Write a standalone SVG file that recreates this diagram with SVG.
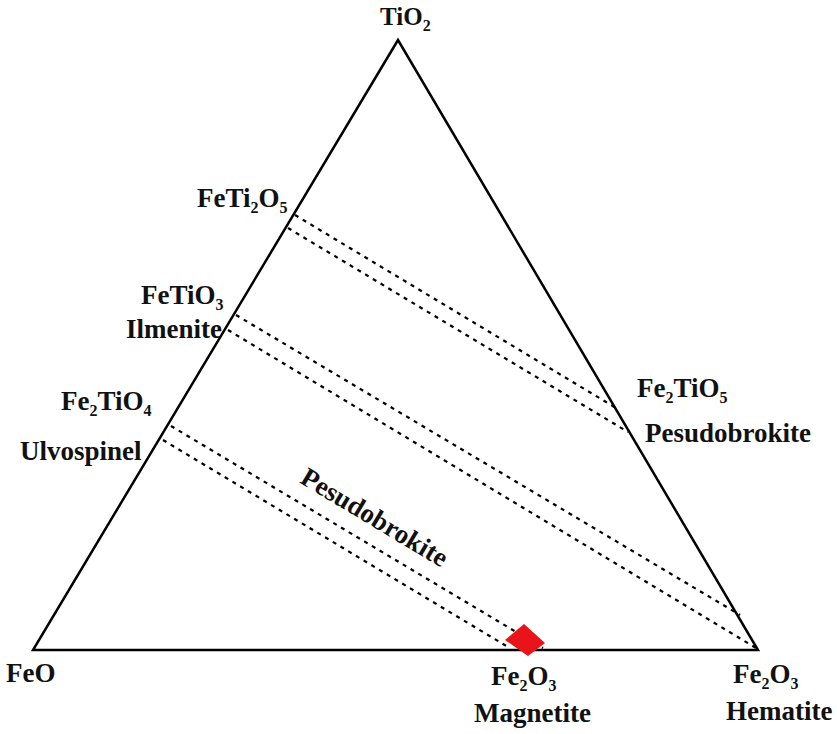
<svg xmlns="http://www.w3.org/2000/svg" width="837" height="734" viewBox="0 0 837 734">
<style>
.t{font-family:"Liberation Serif","Times New Roman",serif;font-weight:bold;font-size:27px;fill:#111}
.s{font-size:16px}
.edge{fill:none;stroke:#000;stroke-width:2.5;stroke-linejoin:miter}
.dash{fill:none;stroke:#000;stroke-width:2.2;stroke-dasharray:4 5}
</style>
<rect width="837" height="734" fill="#fff"/>
<g id="triangle">
<polygon class="edge" points="398,40 33,650 758,650"/>
</g>
<g id="connectors">
<line class="dash" x1="295" y1="215" x2="616" y2="408"/>
<line class="dash" x1="288" y1="228" x2="628" y2="432"/>
<line class="dash" x1="236" y1="315" x2="740" y2="615"/>
<line class="dash" x1="228" y1="330" x2="756" y2="648"/>
<line class="dash" x1="171" y1="426" x2="543" y2="648"/>
<line class="dash" x1="163" y1="440" x2="508" y2="647"/>
</g>
<g id="magnetite-point">
<polygon points="505,640 524,624 545,643 528,656" fill="#e8141a"/>
</g>
<g id="TiO2"><text class="t" x="380" y="25" style="font-size:25px">TiO<tspan class="s" dy="6">2</tspan></text></g>
<g id="FeTi2O5"><text class="t" x="197" y="207">FeTi<tspan class="s" dy="6">2</tspan><tspan dy="-6">O</tspan><tspan class="s" dy="6">5</tspan></text></g>
<g id="FeTiO3"><text class="t" x="141" y="304">FeTiO<tspan class="s" dy="6">3</tspan></text>
<text class="t" x="126" y="338">Ilmenite</text></g>
<g id="Fe2TiO4"><text class="t" x="61" y="410">Fe<tspan class="s" dy="6">2</tspan><tspan dy="-6">TiO</tspan><tspan class="s" dy="6">4</tspan></text>
<text class="t" x="20" y="460">Ulvospinel</text></g>
<g id="Fe2TiO5"><text class="t" x="637" y="397">Fe<tspan class="s" dy="6">2</tspan><tspan dy="-6">TiO</tspan><tspan class="s" dy="6">5</tspan></text>
<text class="t" x="645" y="442">Pesudobrokite</text></g>
<g id="FeO"><text class="t" x="6" y="682">FeO</text></g>
<g id="Fe2O3-magnetite"><text class="t" x="491" y="685">Fe<tspan class="s" dy="6">2</tspan><tspan dy="-6">O</tspan><tspan class="s" dy="6">3</tspan></text>
<text class="t" x="474" y="722">Magnetite</text></g>
<g id="Fe2O3-hematite"><text class="t" x="733" y="683">Fe<tspan class="s" dy="6">2</tspan><tspan dy="-6">O</tspan><tspan class="s" dy="6">3</tspan></text>
<text class="t" x="726" y="720">Hematite</text></g>
<g id="pesudobrokite-line-label"><text class="t" text-anchor="middle" transform="translate(370,525) rotate(31)">Pesudobrokite</text></g>
</svg>
